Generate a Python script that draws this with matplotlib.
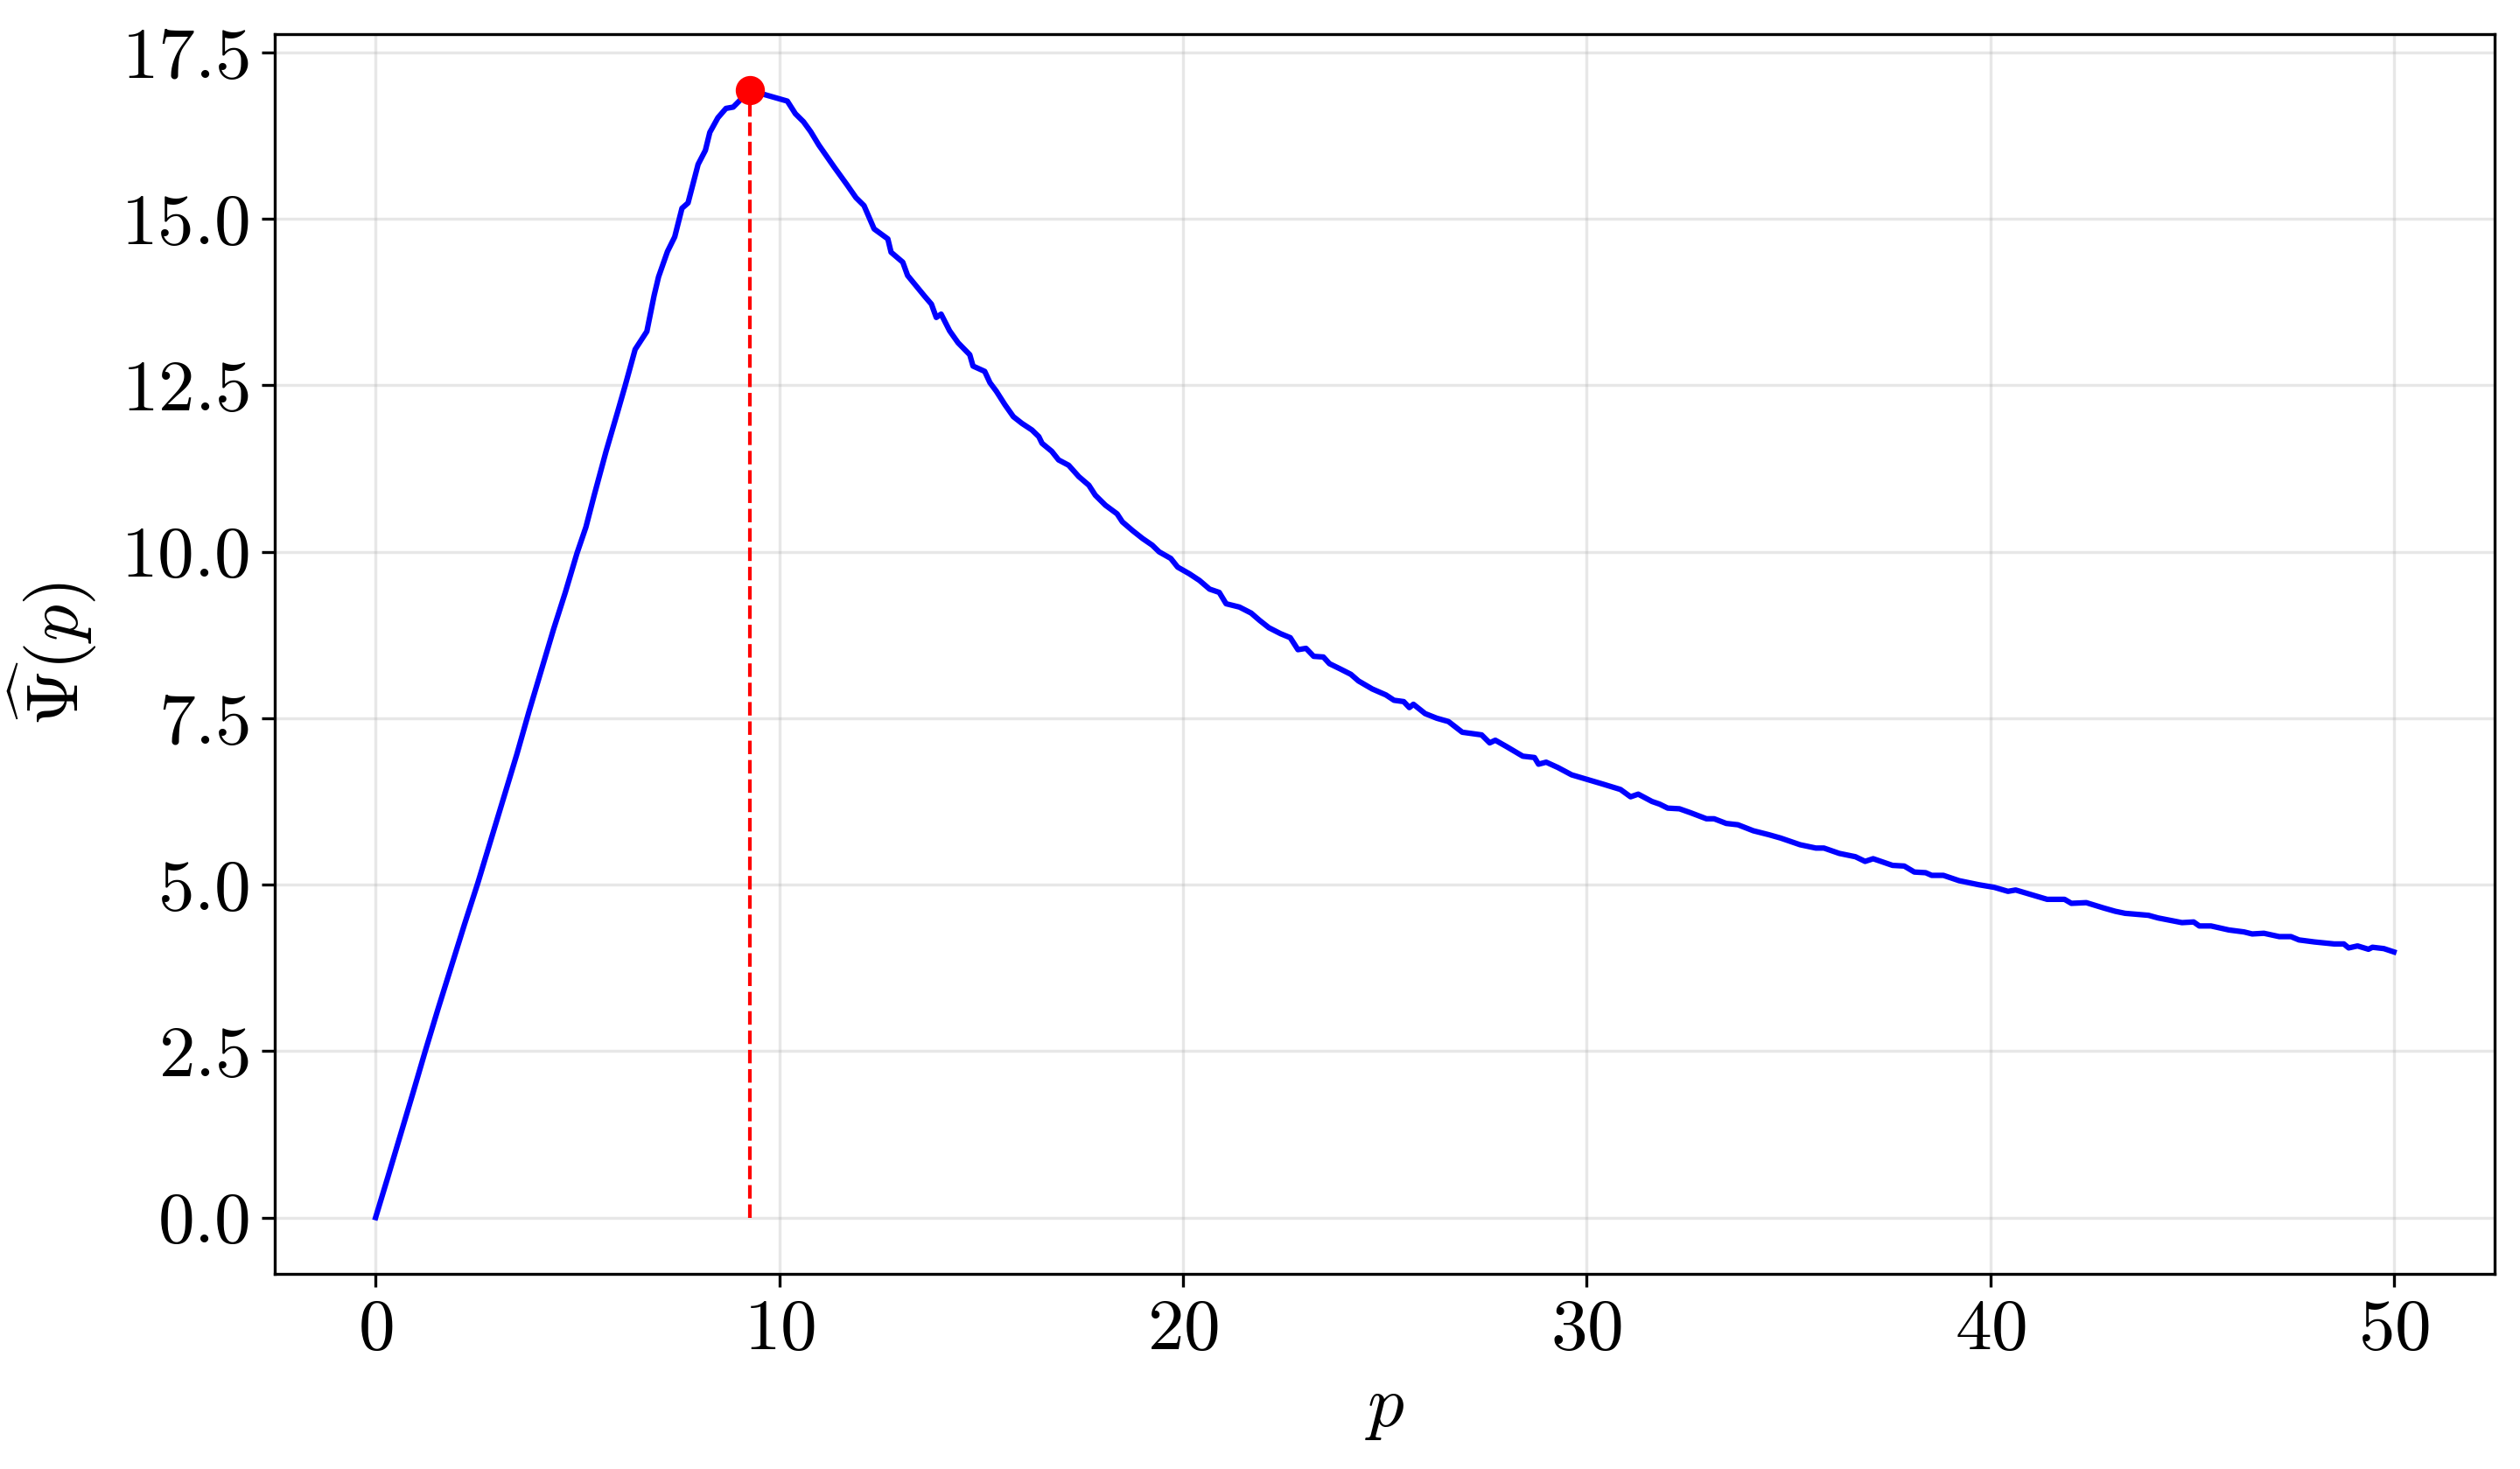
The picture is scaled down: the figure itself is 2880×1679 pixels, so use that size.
import matplotlib
matplotlib.use("Agg")
import matplotlib.pyplot as plt
import numpy as np

plt.rcParams['font.family'] = 'serif'
plt.rcParams['font.serif'] = ['cmr10', 'DejaVu Serif']
plt.rcParams['mathtext.fontset'] = 'cm'
plt.rcParams['axes.formatter.use_mathtext'] = True

p_vals = [0.00, 0.30, 0.62, 0.93, 1.23, 1.55, 1.88, 2.20, 2.53, 2.85, 3.17, 3.50, 3.80,
          4.12, 4.41, 4.70, 4.99, 5.21, 5.42, 5.71, 6.00, 6.18, 6.43, 6.72, 6.90, 7.01,
          7.23, 7.41, 7.59, 7.74, 7.99, 8.17, 8.28, 8.48, 8.68, 8.86, 9.04, 9.28, 9.62,
          9.91, 10.20, 10.40, 10.60, 10.78, 10.98, 11.36, 11.67, 11.90, 12.10, 12.35,
          12.69, 12.77, 13.06, 13.18, 13.60, 13.77, 13.89, 14.01, 14.22, 14.43, 14.72,
          14.80, 15.09, 15.22, 15.38, 15.59, 15.80, 16.01, 16.26, 16.43, 16.51, 16.75,
          16.92, 17.17, 17.42, 17.67, 17.83, 18.08, 18.37, 18.50, 18.75, 19.00, 19.24,
          19.41, 19.70, 19.87, 20.16, 20.41, 20.66, 20.90, 21.07, 21.40, 21.69, 21.90,
          22.13, 22.42, 22.66, 22.85, 23.05, 23.24, 23.48, 23.63, 23.90, 24.16, 24.35,
          24.69, 25.03, 25.23, 25.47, 25.61, 25.71, 26.00, 26.29, 26.58, 26.92, 27.16,
          27.40, 27.60, 27.74, 28.03, 28.42, 28.71, 28.81, 29.00, 29.29, 29.63, 30.02,
          30.41, 30.84, 31.09, 31.28, 31.62, 31.81, 32.01, 32.30, 32.58, 32.97, 33.16,
          33.46, 33.75, 34.13, 34.52, 34.81, 35.29, 35.68, 35.88, 36.26, 36.66, 36.90,
          37.10, 37.58, 37.87, 38.12, 38.40, 38.55, 38.84, 39.23, 39.71, 40.10, 40.44,
          40.63, 41.02, 41.41, 41.84, 42.01, 42.38, 42.81, 43.10, 43.34, 43.92, 44.16,
          44.75, 45.04, 45.18, 45.47, 45.91, 46.29, 46.49, 46.78, 47.16, 47.45, 47.65,
          48.03, 48.52, 48.76, 48.88, 49.10, 49.37, 49.47, 49.75, 50.00]

psi_vals = [0.00, 0.60, 1.25, 1.88, 2.50, 3.14, 3.78, 4.40, 5.02, 5.66, 6.30, 6.96, 7.60,
            8.25, 8.84, 9.39, 9.98, 10.37, 10.86, 11.51, 12.11, 12.49, 13.04, 13.31, 13.85, 14.13,
            14.51, 14.73, 15.16, 15.24, 15.82, 16.03, 16.30, 16.52, 16.66, 16.68, 16.79, 16.93, 16.87,
            16.82, 16.77, 16.58, 16.46, 16.31, 16.11, 15.78, 15.52, 15.32, 15.20, 14.85,
            14.70, 14.50, 14.35, 14.15, 13.84, 13.72, 13.52, 13.57, 13.32, 13.14, 12.96,
            12.79, 12.71, 12.54, 12.41, 12.21, 12.03, 11.93, 11.83, 11.73, 11.63, 11.51,
            11.38, 11.30, 11.13, 11.00, 10.85, 10.70, 10.57, 10.45, 10.32, 10.20, 10.10,
            10.00, 9.90, 9.77, 9.67, 9.57, 9.44, 9.39, 9.22, 9.17, 9.08, 8.97,
            8.86, 8.77, 8.71, 8.53, 8.55, 8.43, 8.42, 8.32, 8.24, 8.16, 8.06,
            7.94, 7.85, 7.77, 7.75, 7.66, 7.71, 7.57, 7.50, 7.45, 7.29, 7.27,
            7.25, 7.13, 7.17, 7.07, 6.93, 6.91, 6.81, 6.84, 6.76, 6.65, 6.58,
            6.51, 6.43, 6.32, 6.36, 6.25, 6.21, 6.15, 6.14, 6.08, 5.99, 5.99,
            5.92, 5.90, 5.81, 5.75, 5.70, 5.60, 5.55, 5.55, 5.47, 5.42, 5.35,
            5.39, 5.29, 5.28, 5.19, 5.18, 5.14, 5.14, 5.06, 5.00, 4.96, 4.90,
            4.92, 4.85, 4.78, 4.78, 4.72, 4.73, 4.65, 4.60, 4.57, 4.54, 4.50,
            4.43, 4.44, 4.38, 4.38, 4.32, 4.29, 4.26, 4.27, 4.22, 4.22, 4.17,
            4.14, 4.11, 4.11, 4.05, 4.08, 4.03, 4.06, 4.04, 3.99]

p = np.array(p_vals)
psi = np.array(psi_vals)
k = int(np.argmax(psi))
p_star, psi_star = p[k], psi[k]

fig = plt.figure(figsize=(9.6, 1679 / 300), dpi=300)
ax = fig.add_axes([0.109, 0.1328, 0.881, 0.844])

ax.plot(p, psi, color='blue', lw=1.5, zorder=3)
ax.plot([p_star, p_star], [0, psi_star], color='red', ls='--', lw=1.0, zorder=2)
ax.plot([p_star], [psi_star], 'o', color='red', markersize=7, zorder=4)

ax.grid(True, alpha=0.3)
ax.set_xlabel(r'$p$', fontsize=20)
ax.set_ylabel(r'$\widehat{\Psi}(p)$', fontsize=20, labelpad=6)
ax.tick_params(labelsize=20)

fig.savefig('out.png', dpi=300)
